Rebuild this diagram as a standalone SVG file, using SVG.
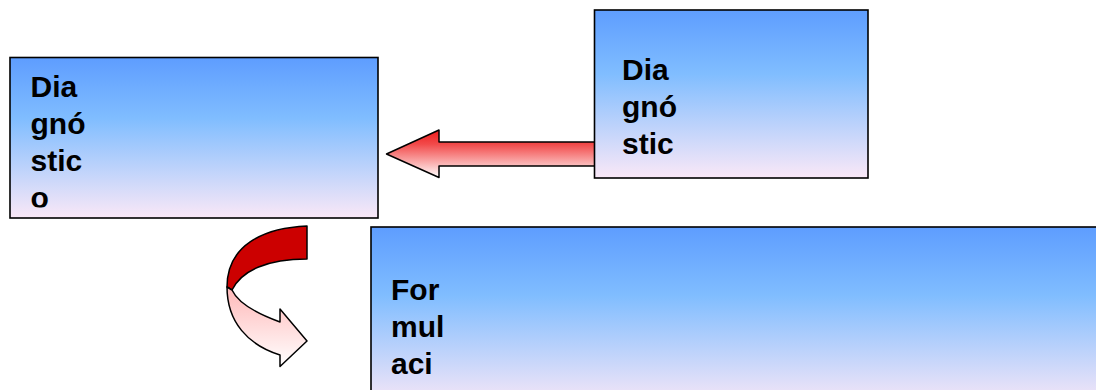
<svg xmlns="http://www.w3.org/2000/svg" width="1096" height="390" viewBox="0 0 1096 390">
  <defs>
    <linearGradient id="boxFill" x1="0" y1="0" x2="0" y2="1">
      <stop offset="0" stop-color="#5E9DFF"/>
      <stop offset="0.38" stop-color="#80BDFF"/>
      <stop offset="1" stop-color="#FAE8F7"/>
    </linearGradient>
    <linearGradient id="arrowFill" x1="0" y1="0" x2="0" y2="1">
      <stop offset="0" stop-color="#EE1C1C"/>
      <stop offset="0.3" stop-color="#F24A4A"/>
      <stop offset="1" stop-color="#FFFFFF"/>
    </linearGradient>
    <linearGradient id="ribbonFront" x1="0" y1="0" x2="0" y2="1">
      <stop offset="0" stop-color="#FFB8B8"/>
      <stop offset="1" stop-color="#FFFFFF"/>
    </linearGradient>
    <clipPath id="clipLeft">
      <rect x="10" y="57" width="368" height="150.5"/>
    </clipPath>
    <clipPath id="clipRight">
      <rect x="594" y="10" width="274" height="168"/>
    </clipPath>
  </defs>
  <style>
    .box { fill: url(#boxFill); stroke: #000; stroke-width: 1.6; }
    .label { font-family: "Liberation Sans", Arial, sans-serif; font-weight: bold; font-size: 30px; fill: #000; }
    .outline { stroke: #000; stroke-width: 1.5; stroke-linejoin: round; }
  </style>

  <g id="connectors">
    <!-- straight block arrow pointing left -->
    <path class="outline" fill="url(#arrowFill)" d="M386.5,154 L439,130 L439,142 L600,142 L600,166 L439,166 L439,177.5 Z"/>
    <!-- curved U-turn arrow: back side of the ribbon -->
    <path class="outline" fill="#CC0000" d="M307,226 C262,228 227,246 227,287 L232,290 C242,270 268,259 307,259 Z"/>
    <!-- curved U-turn arrow: front side with head -->
    <path class="outline" fill="url(#ribbonFront)" d="M227,287 C227,322 248,345 280,355 L280,366.5 L307,341 L280,309 L280,322 C258,314 238,303 232,290 Z"/>
  </g>

  <g id="node-diagnostico">
    <rect class="box" x="10" y="57.5" width="368" height="160.5"/>
    <g clip-path="url(#clipLeft)">
      <text class="label" x="30.5" y="96.7">Dia</text>
      <text class="label" x="30.5" y="133.7">gnó</text>
      <text class="label" x="30.5" y="170.7">stic</text>
      <text class="label" x="30.5" y="207.7">o</text>
    </g>
  </g>

  <g id="node-diagnostic">
    <rect class="box" x="594.5" y="10" width="273.5" height="168"/>
    <g clip-path="url(#clipRight)">
      <text class="label" x="622" y="80">Dia</text>
      <text class="label" x="622" y="117">gnó</text>
      <text class="label" x="622" y="154">stic</text>
    </g>
  </g>

  <g id="node-formulacion">
    <rect class="box" x="371" y="227" width="740" height="180"/>
    <text class="label" x="391" y="300">For</text>
    <text class="label" x="391" y="337">mul</text>
    <text class="label" x="391" y="374">aci</text>
  </g>
</svg>
